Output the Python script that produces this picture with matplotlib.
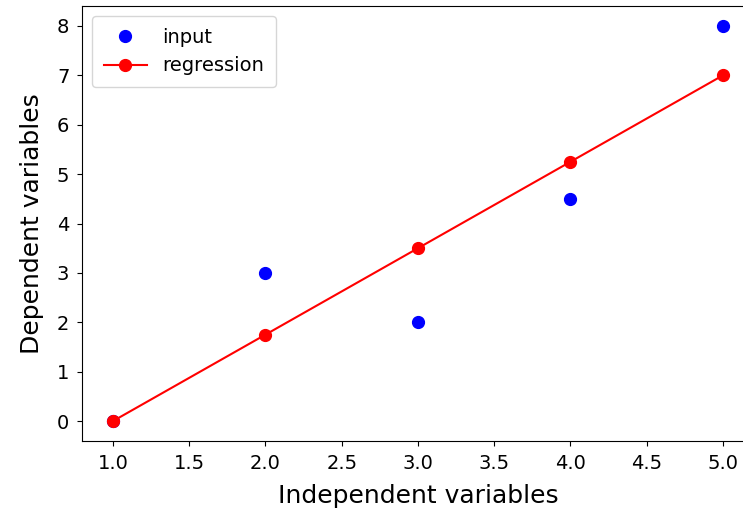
import matplotlib
matplotlib.use("Agg")
from matplotlib import pyplot as plt

x = [1, 2, 3, 4, 5]
y_input = [0, 3, 2, 4.5, 8]
y_reg = [0, 1.75, 3.5, 5.25, 7]

fig = plt.figure(figsize=(7.43, 5.18), dpi=100)
ax = fig.add_axes([0.111, 0.149, 0.903, 0.839])

ax.plot(x, y_input, "o", color="blue", markersize=8.5, label="input")
ax.plot(x, y_reg, "-o", color="red", markersize=8.5, label="regression")

ax.set_xlabel("Independent variables", fontsize=18, labelpad=8)
ax.set_ylabel("Dependent variables", fontsize=18, labelpad=9)
ax.tick_params(labelsize=14, pad=6)
ax.legend(loc="upper left", fontsize=14, handlelength=2.2, borderpad=0.6)

fig.savefig("out.png", dpi=100)
